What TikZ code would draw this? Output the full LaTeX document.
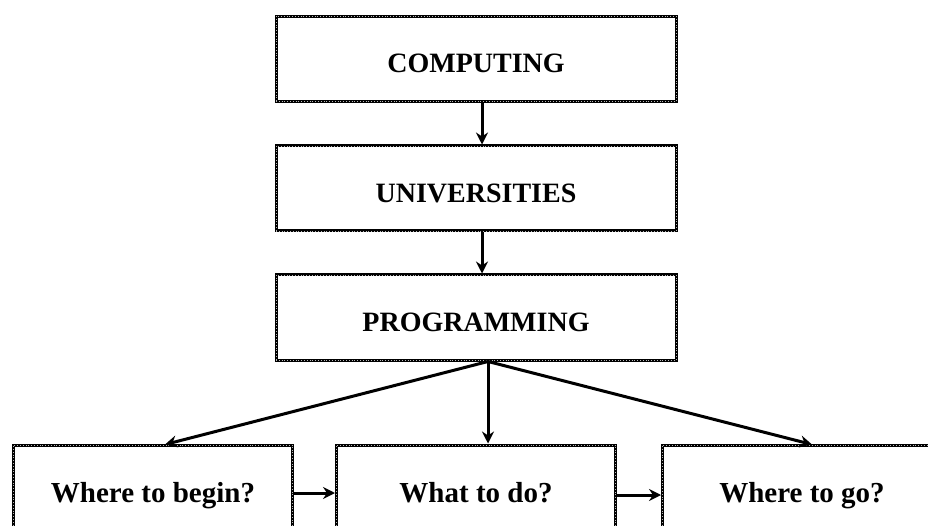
\documentclass[tikz,border=0pt]{standalone}
\usepackage{fontspec}
\setmainfont{Liberation Serif}
\usetikzlibrary{arrows.meta}
\begin{document}
\begin{tikzpicture}[x=1pt,y=-1pt,
  box/.style={draw=black,line width=3pt,fill=white,inner sep=0pt,
    postaction={draw=gray!55,line width=0.8pt,dotted}},
  topbox/.style={box,minimum width=400pt,minimum height=85pt,
    text height=28pt,text depth=0pt,
    font=\fontsize{28}{30}\selectfont\bfseries},
  botbox/.style={box,minimum width=279pt,minimum height=96pt,
    text height=20pt,text depth=2pt,
    font=\fontsize{29}{32}\selectfont\bfseries},
  arr/.style={line width=3pt,-{Stealth[length=12pt,width=12pt,inset=4pt]}}]
\useasboundingbox (0,0) rectangle (928,526);
\node[topbox] (c) at (476,59) {COMPUTING};
\node[topbox] (u) at (476,188.5) {UNIVERSITIES};
\node[topbox] (p) at (476,317.5) {PROGRAMMING};
\node[botbox] (l) at (153,493) {Where to begin?};
\node[botbox] (m) at (476,493) {What to do?};
\node[botbox] (r) at (802,493) {Where to go?};
\draw[arr] ([xshift=6pt]c.south) -- ([xshift=6pt]u.north);
\draw[arr] ([xshift=6pt]u.south) -- ([xshift=6pt]p.north);
\draw[arr] ([xshift=12pt]p.south) -- ([xshift=12pt,yshift=-1pt]l.north);
\draw[arr] ([xshift=12pt]p.south) -- ([xshift=12pt]m.north);
\draw[arr] ([xshift=12pt]p.south) -- ([xshift=10pt,yshift=-1pt]r.north);
\draw[arr] (l.east) -- (m.west);
\draw[arr] ([yshift=-2pt]m.east) -- ([yshift=-2pt]r.west);
\end{tikzpicture}
\end{document}
